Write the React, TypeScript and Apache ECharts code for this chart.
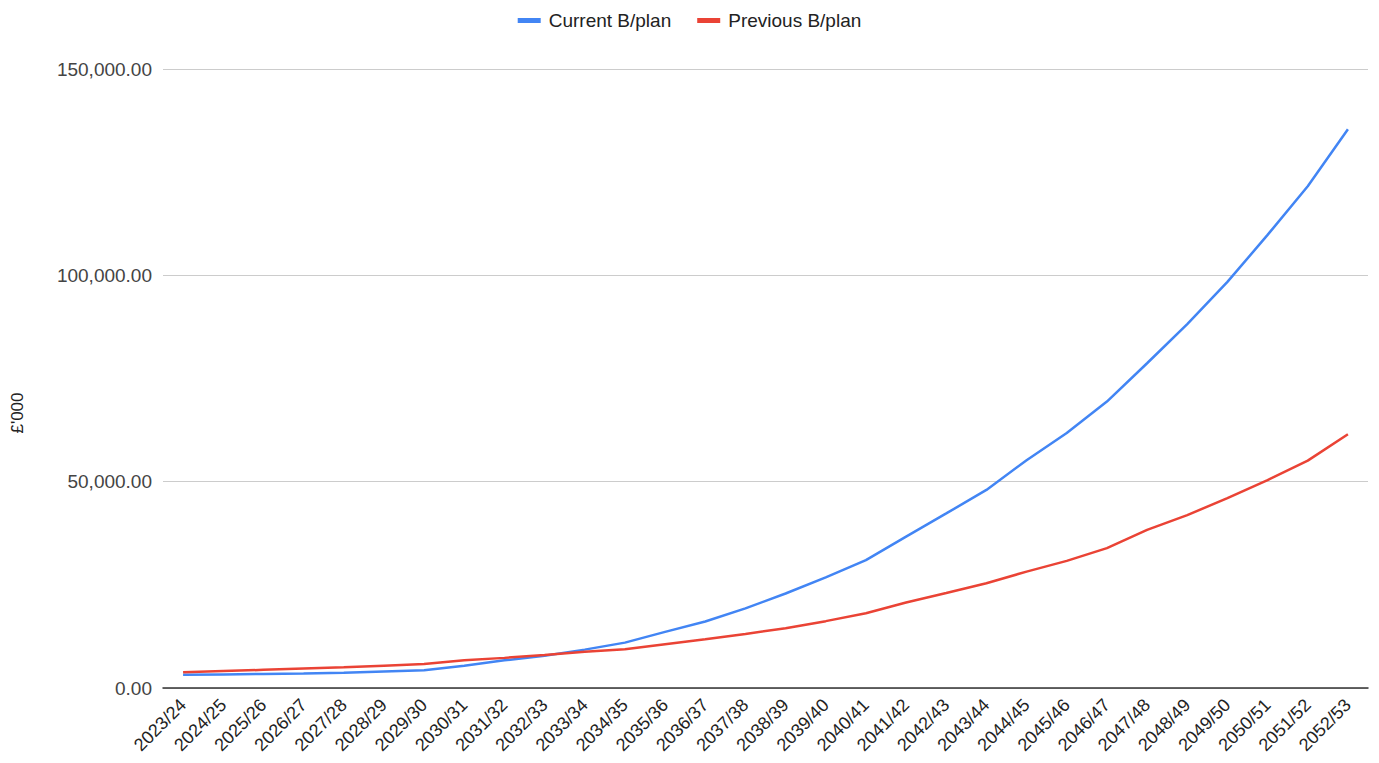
import React, { useEffect, useRef } from "react";
import * as echarts from "echarts";

const categories = [
  "2023/24", "2024/25", "2025/26", "2026/27", "2027/28", "2028/29", "2029/30", "2030/31",
  "2031/32", "2032/33", "2033/34", "2034/35", "2035/36", "2036/37", "2037/38", "2038/39",
  "2039/40", "2040/41", "2041/42", "2042/43", "2043/44", "2044/45", "2045/46", "2046/47",
  "2047/48", "2048/49", "2049/50", "2050/51", "2051/52", "2052/53",
];

const currentPlan = [
  3200, 3300, 3400, 3500, 3700, 4000, 4300, 5400, 6700, 7800,
  9300, 11000, 13600, 16100, 19300, 22900, 26800, 31000, 36700, 42300,
  48000, 55200, 61800, 69400, 78700, 88200, 98400, 109800, 121600, 135400,
];

const previousPlan = [
  3800, 4100, 4400, 4700, 5000, 5400, 5800, 6700, 7300, 8000,
  8800, 9400, 10600, 11800, 13100, 14500, 16200, 18100, 20700, 23000,
  25400, 28200, 30800, 33900, 38300, 41900, 46000, 50400, 55100, 61500,
];

const seriesNames = ["Current B/plan", "Previous B/plan"];
const colors = ["#4285F4", "#EA4335"];
const yAxisTitle = "£'000";

export default function App() {
  const ref = useRef<HTMLDivElement>(null);
  useEffect(() => {
    if (!ref.current) return;
    const chart = echarts.init(ref.current, null, { renderer: "svg" });
    const font = "'Liberation Sans', Arial, sans-serif";
    chart.setOption({
      animation: false,
      color: colors,
      textStyle: { fontFamily: font },
      legend: {
        top: 6,
        left: "center",
        icon: "rect",
        itemWidth: 23,
        itemHeight: 5,
        itemGap: 26,
        textStyle: { fontSize: 19, color: "#222", fontFamily: font, padding: [0, 0, 0, 3] },
        data: seriesNames,
      },
      graphic: [
        {
          type: "text",
          x: 17,
          y: 413,
          rotation: Math.PI / 2,
          style: {
            text: yAxisTitle,
            fontSize: 17,
            fill: "#222",
            fontFamily: font,
            align: "center",
            verticalAlign: "middle",
          },
        },
      ],
      grid: { left: 163, right: 11, top: 69, bottom: 75, containLabel: false },
      xAxis: {
        type: "category",
        data: categories,
        boundaryGap: true,
        axisLine: { lineStyle: { color: "#333", width: 1.5 } },
        axisTick: { show: false },
        axisLabel: {
          rotate: 45,
          interval: 0,
          fontSize: 18,
          color: "#222",
          margin: 14,
          fontFamily: font,
        },
      },
      yAxis: {
        type: "value",
        min: 0,
        max: 150000,
        interval: 50000,
        axisLine: { show: false },
        axisTick: { show: false },
        splitLine: { lineStyle: { color: "#cccccc", width: 1 } },
        axisLabel: {
          fontSize: 19,
          color: "#444",
          margin: 11,
          fontFamily: font,
          formatter: (v: number) =>
            v.toLocaleString("en-US", { minimumFractionDigits: 2, maximumFractionDigits: 2 }),
        },
      },
      series: [
        {
          name: seriesNames[0],
          type: "line",
          data: currentPlan,
          showSymbol: false,
          symbol: "none",
          lineStyle: { width: 2.5, color: colors[0] },
          z: 3,
        },
        {
          name: seriesNames[1],
          type: "line",
          data: previousPlan,
          showSymbol: false,
          symbol: "none",
          lineStyle: { width: 2.5, color: colors[1] },
          z: 4,
        },
      ],
    });
    return () => chart.dispose();
  }, []);
  return <div ref={ref} style={{ width: 1379, height: 763, position: "absolute", left: 0, top: 0 }} />;
}
